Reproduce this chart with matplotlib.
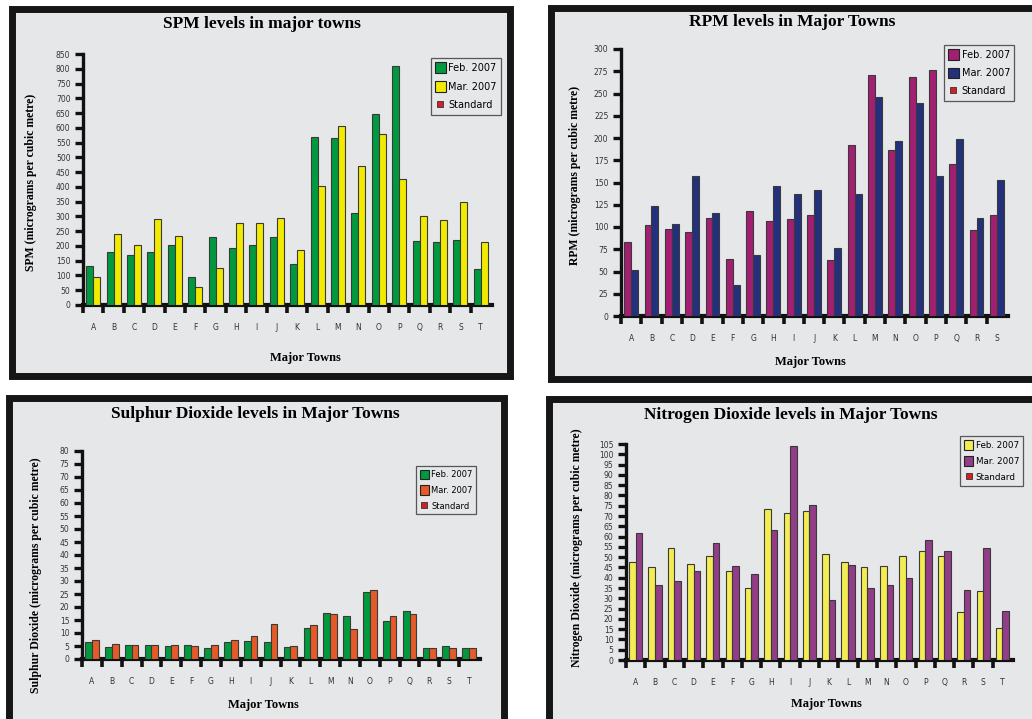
import matplotlib
matplotlib.use('Agg')
import matplotlib.pyplot as plt
import numpy as np
from matplotlib.patches import Rectangle, Patch
from matplotlib.lines import Line2D

W, H = 1032, 719

towns20 = list('ABCDEFGHIJKLMNOPQRST')
towns19 = list('ABCDEFGHIJKLMNOPQRS')

# SPM (micrograms per cubic metre)
spm_feb = [132, 181, 168, 178, 202, 95, 231, 192, 203, 231, 140, 569, 567, 310, 647, 809, 217, 213, 219, 121]
spm_mar = [94, 239, 203, 292, 235, 62, 126, 278, 277, 293, 185, 404, 605, 472, 578, 428, 301, 287, 348, 213]

# RPM
rpm_feb = [83, 102, 98, 94, 110, 64, 118, 107, 109, 114, 63, 192, 271, 186, 268, 276, 171, 97, 113]
rpm_mar = [52, 124, 103, 157, 116, 35, 69, 146, 137, 142, 76, 137, 246, 197, 239, 157, 199, 110, 153]

# Sulphur dioxide
so2_feb = [6.4, 4.6, 5.5, 5.5, 5.0, 5.5, 4.3, 6.5, 7.0, 6.5, 4.6, 11.9, 17.8, 16.5, 25.8, 14.8, 18.4, 4.3, 4.9, 4.3]
so2_mar = [7.3, 5.7, 5.2, 5.5, 5.4, 4.9, 5.2, 7.3, 8.8, 13.4, 4.9, 12.9, 17.5, 11.6, 26.5, 16.5, 17.5, 4.3, 4.3, 4.3]

# Nitrogen dioxide
no2_feb = [47.5, 45.4, 54.6, 46.8, 50.4, 43.1, 34.8, 73.2, 71.6, 72.4, 51.7, 47.5, 45.4, 45.9, 50.4, 53.2, 50.4, 23.2, 33.7, 15.4]
no2_mar = [61.6, 36.5, 38.3, 43.1, 57.0, 45.5, 42.0, 63.2, 103.9, 75.4, 29.0, 46.2, 34.8, 36.6, 39.7, 58.3, 52.8, 33.9, 54.6, 23.7]

BG = '#e6e7e9'

fig = plt.figure(figsize=(W / 100, H / 100), dpi=100)
fig.patch.set_facecolor('white')


def px_text(x, y, s, **kw):
    fig.text(x / W, 1 - y / H, s, **kw)


def frame(x0, y0, x1, y1):
    r = Rectangle((x0 / W, 1 - y1 / H), (x1 - x0) / W, (y1 - y0) / H,
                  transform=fig.transFigure, facecolor=BG, edgecolor='#161616',
                  linewidth=5.0, zorder=0)
    fig.add_artist(r)


def panel(x0, x1, yzero, ytop, ymax, ystep, towns, feb, mar, c1, c2,
          title, tpos, ylabel, ypos, xlpos, leg, lfont, lspace):
    ax = fig.add_axes([x0 / W, 1 - yzero / H, (x1 - x0) / W, (yzero - ytop) / H])
    ax.set_facecolor('none')
    n = len(towns)
    x = np.arange(n)
    bw = 0.34
    ax.bar(x - bw / 2, feb, bw, color=c1, edgecolor='#3a3a3a', linewidth=0.8, zorder=3)
    ax.bar(x + bw / 2, mar, bw, color=c2, edgecolor='#3a3a3a', linewidth=0.8, zorder=3)
    ax.set_xlim(-0.5, n - 0.5 + 0.05 * n / 20)
    ax.set_ylim(0, ymax)
    ax.set_yticks(np.arange(0, ymax + 0.1, ystep))
    ax.set_xticks(x)
    ax.set_xticklabels(towns)
    ax.set_xticks(np.arange(n) - 0.5, minor=True)
    for s in ['top', 'right']:
        ax.spines[s].set_visible(False)
    ax.spines['left'].set_linewidth(2.4)
    ax.spines['bottom'].set_linewidth(3.0)
    ax.spines['left'].set_color('#111')
    ax.spines['bottom'].set_color('#111')
    ax.tick_params(axis='y', direction='out', length=6, width=2.4, color='#111',
                   labelsize=5.5, labelcolor='#333', pad=3)
    ax.tick_params(axis='x', which='major', length=0, labelsize=5.5,
                   labelcolor='#333', pad=13)
    ax.tick_params(axis='x', which='minor', direction='out', length=6, width=2.6,
                   color='#111')
    handles = [Patch(facecolor=c1, edgecolor='#222', linewidth=0.8, label='Feb. 2007'),
               Patch(facecolor=c2, edgecolor='#222', linewidth=0.8, label='Mar. 2007'),
               Line2D([], [], linestyle='none', marker='s', markersize=4,
                      markerfacecolor='#d42020', markeredgecolor='#333',
                      markeredgewidth=0.6, label='Standard')]
    lg = ax.legend(handles=handles, loc='upper left',
                   bbox_to_anchor=(leg[0] / W, 1 - leg[1] / H),
                   bbox_transform=fig.transFigure, fontsize=lfont,
                   frameon=True, fancybox=False, borderpad=0.45,
                   handlelength=1.05, handleheight=1.35, handletextpad=0.3,
                   labelspacing=lspace, borderaxespad=0)
    lg.get_frame().set_edgecolor('#333')
    lg.get_frame().set_facecolor(BG)
    lg.get_frame().set_linewidth(0.9)
    px_text(tpos[0], tpos[1], title, ha='center', va='center',
            family='Liberation Serif', weight='bold', fontsize=12.5)
    px_text(ypos[0], ypos[1], ylabel, ha='center', va='center', rotation=90,
            family='Liberation Serif', weight='bold', fontsize=8.5)
    px_text(xlpos[0], xlpos[1], 'Major Towns', ha='center', va='center',
            family='Liberation Serif', weight='bold', fontsize=9)
    return ax


frame(11.5, 9.5, 509.5, 376.5)
frame(550.5, 7.5, 1040, 378.5)
frame(8.5, 398.5, 503.5, 730)
frame(548.5, 399.5, 1040, 730)

panel(83, 492, 305, 54, 850, 50, towns20, spm_feb, spm_mar, '#009a3e', '#f2ea00',
      'SPM levels in major towns', (262, 24),
      'SPM (micrograms per cubic metre)', (31, 182), (305, 358), (431, 58), 7.0, 0.8)

panel(621, 1008, 316, 49, 300, 25, towns19, rpm_feb, rpm_mar, '#a31f72', '#23307c',
      'RPM levels in Major Towns', (792, 22),
      'RPM (micrograms per cubic metre)', (575, 175), (810, 362), (944, 45), 7.0, 0.75)

panel(82, 480, 659, 451, 80, 5, towns20, so2_feb, so2_mar, '#009a3e', '#e55a26',
      'Sulphur Dioxide levels in Major Towns', (255, 414),
      'Sulphur Dioxide (micrograms per cubic metre)', (36, 575), (263, 705), (416, 466), 6.0, 0.75)

panel(626, 1013, 660, 444, 105, 5, towns20, no2_feb, no2_mar, '#f3ec52', '#913d88',
      'Nitrogen Dioxide levels in Major Towns', (791, 415),
      'Nitrogen Dioxide (micrograms per cubic metre)', (577, 548), (826, 704), (960, 436), 6.3, 0.7)

fig.savefig('out.png', dpi=100, facecolor=fig.get_facecolor())
